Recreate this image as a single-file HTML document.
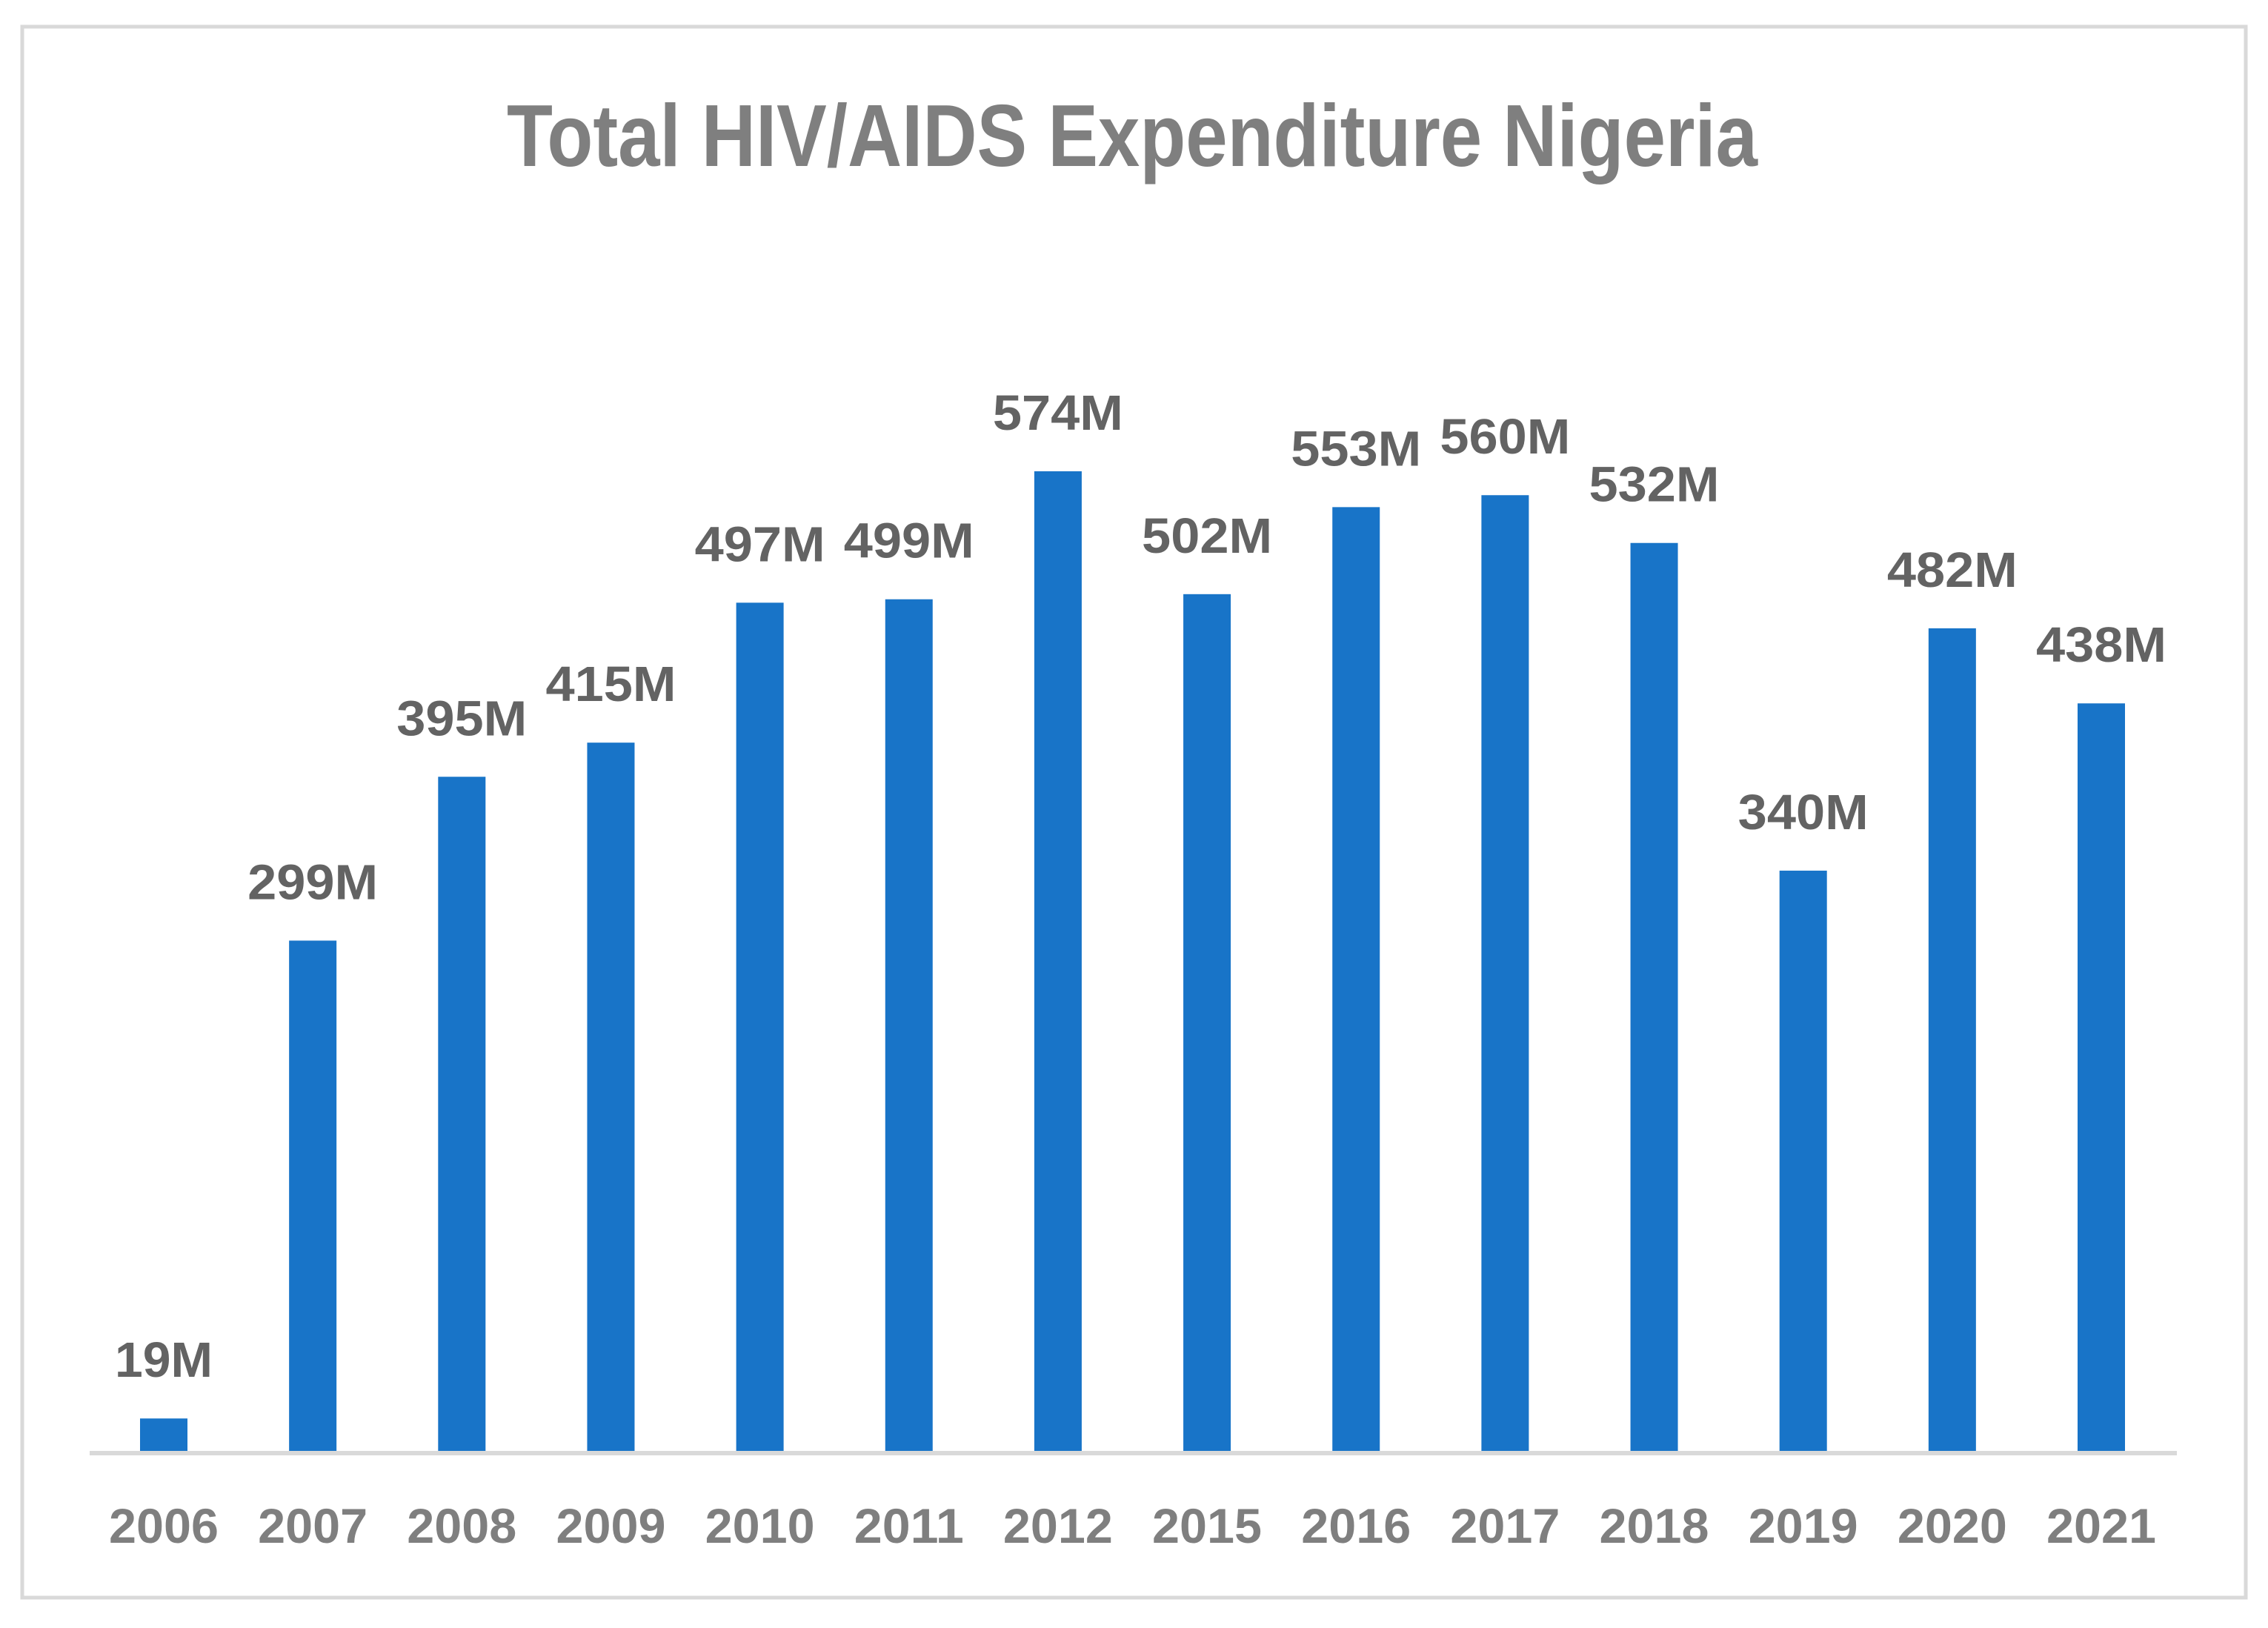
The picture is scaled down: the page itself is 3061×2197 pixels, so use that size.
<!DOCTYPE html>
<html><head><meta charset="utf-8"><style>
html,body{margin:0;padding:0;background:#fff;}
svg{display:block;}
text{font-family:"Liberation Sans",sans-serif;font-weight:bold;}
</style></head><body>
<svg id="chart" width="3061" height="2197" viewBox="0 0 3061 2197">
<rect x="30" y="36" width="3001" height="2120" fill="#fff" stroke="#d9d9d9" stroke-width="5"/>
<text x="684" y="224" font-size="119" fill="#7f7f7f" textLength="1688" lengthAdjust="spacingAndGlyphs">Total HIV/AIDS Expenditure Nigeria</text>
<g id="bars"></g>
<line x1="121" y1="1961" x2="2938" y2="1961" stroke="#d9d9d9" stroke-width="6"/>
</svg>
<script>
const categories = ["2006","2007","2008","2009","2010","2011","2012","2015","2016","2017","2018","2019","2020","2021"];
const values = [19,299,395,415,497,499,574,502,553,560,532,340,482,438];
const valueLabels = ["19M","299M","395M","415M","497M","499M","574M","502M","553M","560M","532M","340M","482M","438M"];

const baseY = 1958, pxPerUnit = 1322/574;
const firstX = 221, step = (2836-221)/13, barW = 64;
function xScale(i){ return firstX + i*step; }
function yScale(v){ return baseY - v*pxPerUnit; }
const ns = "http://www.w3.org/2000/svg";
const g = document.getElementById('bars');
categories.forEach((c,i)=>{
  const cx = xScale(i), y = yScale(values[i]);
  const r = document.createElementNS(ns,'rect');
  r.setAttribute('x', cx-barW/2); r.setAttribute('y', y);
  r.setAttribute('width', barW); r.setAttribute('height', baseY-y);
  r.setAttribute('fill', '#1874c8');
  
  
  g.appendChild(r);
  const t = document.createElementNS(ns,'text');
  t.setAttribute('x', cx); t.setAttribute('y', y-56);
  t.setAttribute('text-anchor','middle'); t.setAttribute('font-size','67');
  t.setAttribute('fill','#636363');
  t.setAttribute('textLength', valueLabels[i].length*44);
  t.setAttribute('lengthAdjust','spacingAndGlyphs');
  t.textContent = valueLabels[i];
  
  
  g.appendChild(t);
  const xt = document.createElementNS(ns,'text');
  xt.setAttribute('x', cx); xt.setAttribute('y', 2082);
  xt.setAttribute('text-anchor','middle'); xt.setAttribute('font-size','66');
  xt.setAttribute('fill','#7f7f7f');
  xt.setAttribute('textLength', 148);
  xt.setAttribute('lengthAdjust','spacingAndGlyphs');
  xt.textContent = c;
  
  
  g.appendChild(xt);
});
</script>
</body></html>
